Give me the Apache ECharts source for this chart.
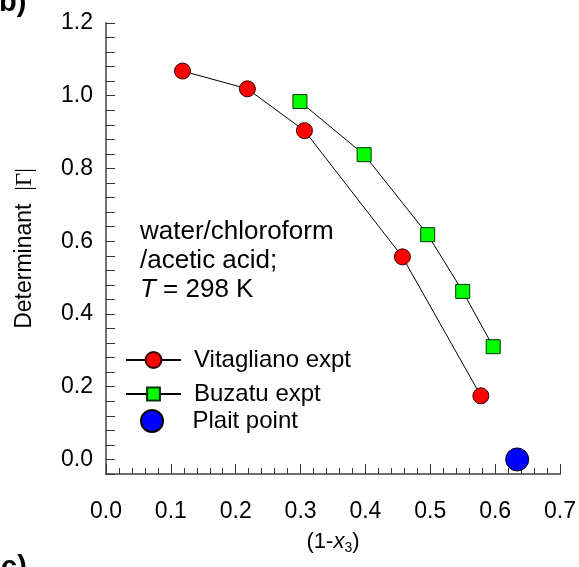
<!DOCTYPE html>
<html>
<head>
<meta charset="utf-8">
<script src="https://cdn.jsdelivr.net/npm/echarts@6/dist/echarts.min.js"></script>
<style>
  html, body { margin: 0; padding: 0; background: #fff; }
  #chart { width: 579px; height: 567px; }
</style>
</head>
<body>
<div id="chart"></div>
<script>
// Determinant |Γ| versus (1-x3) for water / chloroform / acetic acid at 298 K
const vitaglianoX = [0.118, 0.218, 0.306, 0.457, 0.578];
const vitaglianoY = [1.068, 1.019, 0.904, 0.557, 0.175];
const buzatuX = [0.299, 0.398, 0.496, 0.550, 0.597];
const buzatuY = [0.984, 0.838, 0.618, 0.462, 0.310];
const plaitX = [0.634];
const plaitY = [0.0];
const seriesNames = ['Vitagliano expt', 'Buzatu expt', 'Plait point'];
const annotationLines = ['water/chloroform', '/acetic acid;', '{i|T} = 298 K'];

const FONT = 'Liberation Sans, Arial, sans-serif';

function pairs(xs, ys) {
  return xs.map((x, i) => [x, ys[i]]);
}

const chart = echarts.init(document.getElementById('chart'), null, { renderer: 'canvas' });

const legendBase = {
  orient: 'vertical',
  left: 125,
  padding: 0,
  itemWidth: 55,
  selectedMode: false,
  textStyle: { fontFamily: FONT, fontSize: 24, color: '#000', padding: [0, 0, 0, 8] }
};

chart.setOption({
  animation: false,
  backgroundColor: '#fff',
  grid: { left: 106, right: 19, top: 23, bottom: 93, containLabel: false },
  xAxis: {
    type: 'value',
    min: 0,
    max: 0.7,
    interval: 0.1,
    name: '(1-{i|x}{s|3})',
    nameLocation: 'middle',
    nameGap: 54,
    nameTextStyle: {
      fontFamily: FONT, fontSize: 22, color: '#000',
      rich: {
        i: { fontFamily: FONT, fontSize: 22, fontStyle: 'italic', color: '#000' },
        s: { fontFamily: FONT, fontSize: 14, color: '#000', verticalAlign: 'bottom', padding: [13, 0, 0, 0] }
      }
    },
    axisLine: { onZero: false, lineStyle: { color: '#707070', width: 2 } },
    axisTick: { inside: true, length: 10, lineStyle: { color: '#333', width: 1 } },
    minorTick: { show: true, splitNumber: 5, length: 6, lineStyle: { color: '#333', width: 1 } },
    splitLine: { show: false },
    axisLabel: {
      margin: 26,
      fontFamily: FONT, fontSize: 23, color: '#000',
      formatter: v => v.toFixed(1)
    }
  },
  yAxis: {
    type: 'value',
    min: -0.04,
    max: 1.2,
    interval: 0.04,
    name: 'Determinant  {g||Γ|}',
    nameLocation: 'middle',
    nameGap: 70,
    nameTextStyle: {
      fontFamily: FONT, fontSize: 23, color: '#000',
      rich: { g: { fontFamily: 'Liberation Serif, Times New Roman, serif', fontSize: 23, color: '#000' } }
    },
    axisLine: { lineStyle: { color: '#707070', width: 2 } },
    axisTick: { inside: true, length: 9, interval: 0, lineStyle: { color: '#333', width: 1 } },
    splitLine: { show: false },
    axisLabel: {
      margin: 13,
      interval: 0,
      fontFamily: FONT, fontSize: 23, color: '#000',
      formatter: v => {
        const k = v / 0.2;
        return Math.abs(k - Math.round(k)) < 1e-6 ? (Math.abs(v) < 1e-9 ? 0 : v).toFixed(1) : '';
      }
    }
  },
  legend: [
    Object.assign({}, legendBase, { top: 348, itemHeight: 20, data: [seriesNames[0]] }),
    Object.assign({}, legendBase, { top: 382, itemHeight: 16, data: [seriesNames[1]] }),
    Object.assign({}, legendBase, { left: 140, top: 409, itemHeight: 22, data: [seriesNames[2]] })
  ],
  series: [
    {
      name: seriesNames[0],
      type: 'line',
      data: pairs(vitaglianoX, vitaglianoY),
      symbol: 'circle',
      symbolSize: 16,
      lineStyle: { color: '#000', width: 1 },
      itemStyle: { color: '#ff0000', borderColor: '#300', borderWidth: 1 },
      z: 3
    },
    {
      name: seriesNames[1],
      type: 'line',
      data: pairs(buzatuX, buzatuY),
      symbol: 'rect',
      symbolSize: 14,
      lineStyle: { color: '#000', width: 1 },
      itemStyle: { color: '#00ff00', borderColor: '#030', borderWidth: 1 },
      z: 3
    },
    {
      name: seriesNames[2],
      type: 'scatter',
      data: pairs(plaitX, plaitY),
      symbol: 'circle',
      symbolSize: 23,
      itemStyle: { color: '#0000ff', borderColor: '#000', borderWidth: 1, opacity: 1 },
      z: 4
    }
  ],
  graphic: [
    {
      type: 'text', left: 140, top: 217,
      style: {
        text: annotationLines.join('\n'),
        font: '26px ' + FONT,
        fill: '#000',
        lineHeight: 29,
        rich: { i: { fontStyle: 'italic', fontSize: 26, fontFamily: FONT, fill: '#000' } }
      }
    },
    {
      type: 'text', x: -1, y: 3,
      style: { text: 'b)', font: 'bold 29px ' + FONT, fill: '#000', verticalAlign: 'middle' }
    },
    {
      type: 'text', x: 1, y: 568,
      style: { text: 'c)', font: 'bold 29px ' + FONT, fill: '#000', verticalAlign: 'middle' }
    }
  ]
});
</script>
</body>
</html>
